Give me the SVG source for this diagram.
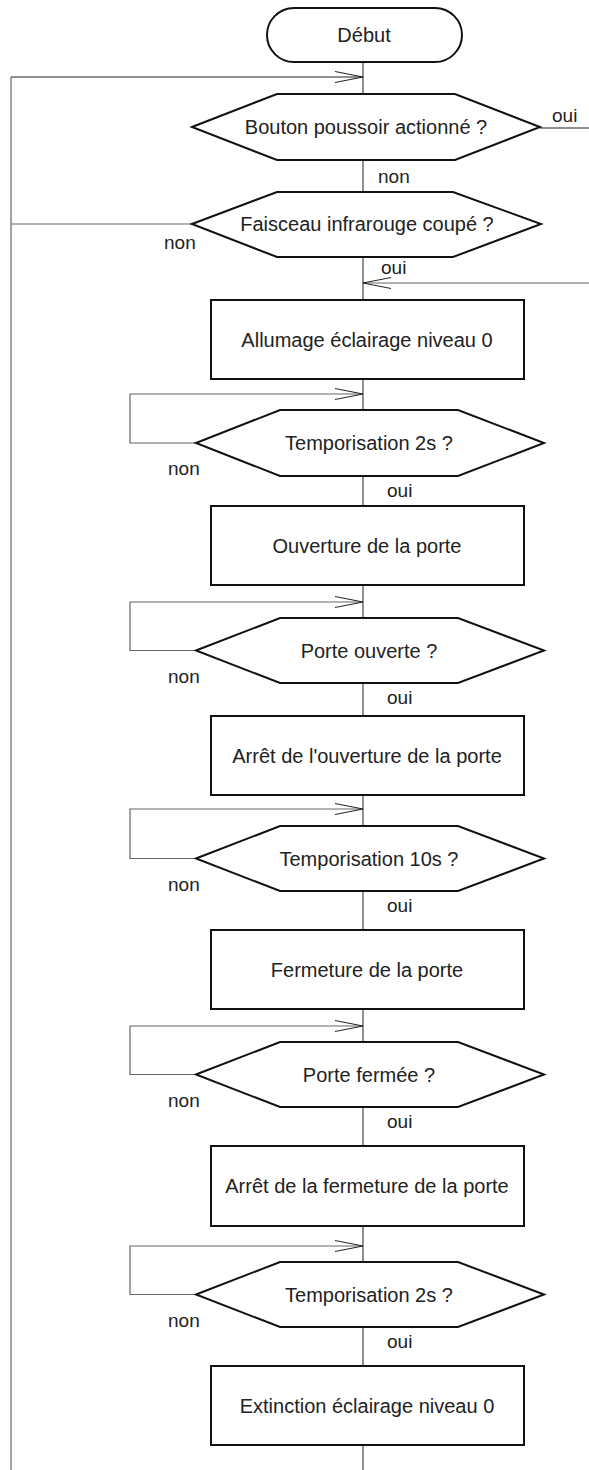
<svg xmlns="http://www.w3.org/2000/svg" width="589" height="1470" viewBox="0 0 589 1470">
<style>
.shape{fill:#fff;stroke:#111;stroke-width:2}
.t{font-family:"Liberation Sans",Arial,sans-serif;font-size:20px;fill:#222;text-anchor:middle}
.lbl{font-family:"Liberation Sans",Arial,sans-serif;font-size:19px;fill:#222}
.c{fill:none;stroke:#222;stroke-width:1}
.g{fill:none;stroke:#666;stroke-width:1.2}
</style>
<defs>
<marker id="open" viewBox="0 0 28 12" refX="28" refY="6" markerWidth="28" markerHeight="12" markerUnits="userSpaceOnUse" orient="auto">
<path d="M0,0.5 L28,6 L0,11.5" fill="none" stroke="#222" stroke-width="1"/>
</marker>
</defs>
<g id="connectors">
<path class="g" d="M11,1470 V77"/>
<path class="c" d="M11,77 H363" marker-end="url(#open)"/>
<path class="g" d="M11,224 H192"/>
<path class="c" d="M540,128 H589"/>
<path class="g" d="M589,283 H363" marker-end="url(#open)"/>
<path class="c" d="M363,62 V94 M363,160 V192 M363,257 V300 M363,379 V410 M363,476 V506 M363,585 V618 M363,683 V716 M363,795 V826 M363,891 V930 M363,1009 V1042 M363,1107 V1146 M363,1226 V1262 M363,1327 V1366 M363,1445 V1470"/>
<path class="g" d="M196,443 H130 V394 H363" marker-end="url(#open)"/>
<path class="g" d="M196,650.5 H130 V602 H363" marker-end="url(#open)"/>
<path class="g" d="M196,858.5 H130 V809 H363" marker-end="url(#open)"/>
<path class="g" d="M196,1074.5 H130 V1026 H363" marker-end="url(#open)"/>
<path class="g" d="M196,1294.5 H130 V1246 H363" marker-end="url(#open)"/>
</g>
<g id="labels">
<text class="lbl" x="552" y="122">oui</text>
<text class="lbl" x="378" y="183">non</text>
<text class="lbl" x="164" y="249">non</text>
<text class="lbl" x="381" y="274">oui</text>
<text class="lbl" x="168" y="475">non</text>
<text class="lbl" x="387" y="497">oui</text>
<text class="lbl" x="168" y="682.5">non</text>
<text class="lbl" x="387" y="704">oui</text>
<text class="lbl" x="168" y="890.5">non</text>
<text class="lbl" x="387" y="912">oui</text>
<text class="lbl" x="168" y="1106.5">non</text>
<text class="lbl" x="387" y="1128">oui</text>
<text class="lbl" x="168" y="1326.5">non</text>
<text class="lbl" x="387" y="1348">oui</text>
</g>
<g id="debut">
<rect class="shape" x="267" y="8" width="195" height="54" rx="27" ry="27"/>
<text class="t" x="364" y="42">Début</text>
</g>
<g id="bouton">
<polygon class="shape" points="192,127 277,94 455,94 540,127 455,160 277,160"/>
<text class="t" x="366" y="134">Bouton poussoir actionné ?</text>
</g>
<g id="faisceau">
<polygon class="shape" points="192,224 277,192 453,192 541,224 453,257 277,257"/>
<text class="t" x="367" y="231">Faisceau infrarouge coupé ?</text>
</g>
<g id="allumage">
<rect class="shape" x="211" y="300" width="313" height="79"/>
<text class="t" x="367" y="347">Allumage éclairage niveau 0</text>
</g>
<g id="tempo1">
<polygon class="shape" points="196,443 280,410 458,410 544,443 458,476 280,476"/>
<text class="t" x="369" y="450">Temporisation 2s ?</text>
</g>
<g id="ouverture">
<rect class="shape" x="211" y="506" width="313" height="79"/>
<text class="t" x="367" y="553">Ouverture de la porte</text>
</g>
<g id="porteouverte">
<polygon class="shape" points="196,650.5 280,618 458,618 544,650.5 458,683 280,683"/>
<text class="t" x="369" y="657.5">Porte ouverte ?</text>
</g>
<g id="arretouverture">
<rect class="shape" x="211" y="716" width="313" height="79"/>
<text class="t" x="367" y="763">Arrêt de l'ouverture de la porte</text>
</g>
<g id="tempo10">
<polygon class="shape" points="196,858.5 280,826 458,826 544,858.5 458,891 280,891"/>
<text class="t" x="369" y="865.5">Temporisation 10s ?</text>
</g>
<g id="fermeture">
<rect class="shape" x="211" y="930" width="313" height="79"/>
<text class="t" x="367" y="977">Fermeture de la porte</text>
</g>
<g id="portefermee">
<polygon class="shape" points="196,1074.5 280,1042 458,1042 544,1074.5 458,1107 280,1107"/>
<text class="t" x="369" y="1081.5">Porte fermée ?</text>
</g>
<g id="arretfermeture">
<rect class="shape" x="211" y="1146" width="313" height="80"/>
<text class="t" x="367" y="1193">Arrêt de la fermeture de la porte</text>
</g>
<g id="tempo2">
<polygon class="shape" points="196,1294.5 280,1262 458,1262 544,1294.5 458,1327 280,1327"/>
<text class="t" x="369" y="1301.5">Temporisation 2s ?</text>
</g>
<g id="extinction">
<rect class="shape" x="211" y="1366" width="313" height="79"/>
<text class="t" x="367" y="1413">Extinction éclairage niveau 0</text>
</g>
</svg>
